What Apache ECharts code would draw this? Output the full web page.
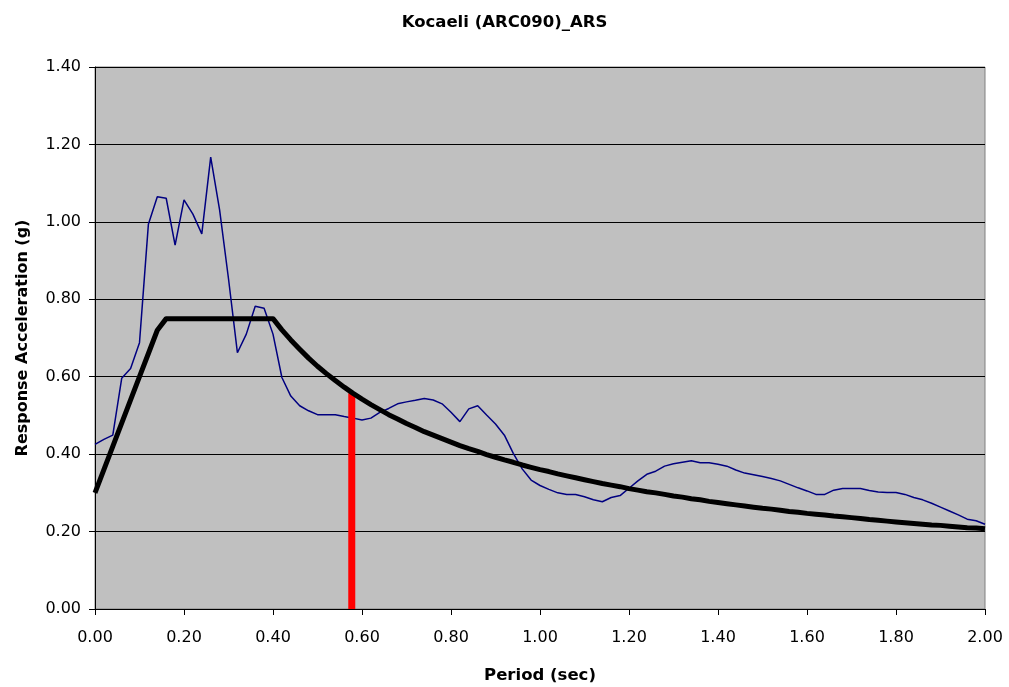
<!DOCTYPE html>
<html>
<head>
<meta charset="utf-8">
<title>Kocaeli (ARC090)_ARS</title>
<script src="https://cdn.jsdelivr.net/npm/echarts/dist/echarts.min.js"></script>
<style>
  html, body { margin: 0; padding: 0; background: #ffffff; }
  #chart { width: 1009px; height: 687px; }
</style>
</head>
<body>
<div id="chart"></div>
<script>
// Period samples (sec)
const periods = [
  0.00, 0.02, 0.04, 0.06, 0.08, 0.10, 0.12, 0.14, 0.16, 0.18,
  0.20, 0.22, 0.24, 0.26, 0.28, 0.30, 0.32, 0.34, 0.36, 0.38,
  0.40, 0.42, 0.44, 0.46, 0.48, 0.50, 0.52, 0.54, 0.56, 0.58,
  0.60, 0.62, 0.64, 0.66, 0.68, 0.70, 0.72, 0.74, 0.76, 0.78,
  0.80, 0.82, 0.84, 0.86, 0.88, 0.90, 0.92, 0.94, 0.96, 0.98,
  1.00, 1.02, 1.04, 1.06, 1.08, 1.10, 1.12, 1.14, 1.16, 1.18,
  1.20, 1.22, 1.24, 1.26, 1.28, 1.30, 1.32, 1.34, 1.36, 1.38,
  1.40, 1.42, 1.44, 1.46, 1.48, 1.50, 1.52, 1.54, 1.56, 1.58,
  1.60, 1.62, 1.64, 1.66, 1.68, 1.70, 1.72, 1.74, 1.76, 1.78,
  1.80, 1.82, 1.84, 1.86, 1.88, 1.90, 1.92, 1.94, 1.96, 1.98,
  2.00
];

// Acceleration response spectrum of the Kocaeli ARC090 record (g)
const arsValues = [
  0.425, 0.438, 0.449, 0.596, 0.621, 0.688, 0.994, 1.065, 1.061, 0.940,
  1.057, 1.020, 0.969, 1.167, 1.031, 0.853, 0.662, 0.710, 0.782, 0.777,
  0.710, 0.598, 0.550, 0.525, 0.512, 0.502, 0.502, 0.502, 0.497, 0.493,
  0.488, 0.493, 0.508, 0.518, 0.530, 0.535, 0.539, 0.544, 0.540, 0.530,
  0.508, 0.484, 0.517, 0.525, 0.501, 0.478, 0.449, 0.402, 0.362, 0.333,
  0.319, 0.309, 0.300, 0.296, 0.296, 0.290, 0.282, 0.277, 0.288, 0.293,
  0.312, 0.331, 0.348, 0.356, 0.369, 0.375, 0.379, 0.383, 0.378, 0.378,
  0.374, 0.369, 0.359, 0.351, 0.347, 0.342, 0.337, 0.331, 0.322, 0.313,
  0.305, 0.296, 0.296, 0.307, 0.311, 0.311, 0.311, 0.306, 0.302, 0.301,
  0.301, 0.296, 0.288, 0.282, 0.273, 0.263, 0.253, 0.243, 0.232, 0.228,
  0.219
];

// Design spectrum (g)
const designValues = [
  0.300, 0.360, 0.420, 0.480, 0.540, 0.600, 0.660, 0.720, 0.750, 0.750,
  0.750, 0.750, 0.750, 0.750, 0.750, 0.750, 0.750, 0.750, 0.750, 0.750,
  0.750, 0.721, 0.695, 0.671, 0.648, 0.627, 0.608, 0.590, 0.573, 0.557,
  0.542, 0.528, 0.515, 0.502, 0.491, 0.479, 0.469, 0.458, 0.449, 0.440,
  0.431, 0.422, 0.414, 0.407, 0.399, 0.392, 0.385, 0.379, 0.372, 0.366,
  0.360, 0.355, 0.349, 0.344, 0.339, 0.334, 0.329, 0.324, 0.320, 0.316,
  0.311, 0.307, 0.303, 0.300, 0.296, 0.292, 0.289, 0.285, 0.282, 0.278,
  0.275, 0.272, 0.269, 0.266, 0.263, 0.260, 0.258, 0.255, 0.252, 0.250,
  0.247, 0.245, 0.243, 0.240, 0.238, 0.236, 0.234, 0.231, 0.229, 0.227,
  0.225, 0.223, 0.221, 0.219, 0.217, 0.216, 0.214, 0.212, 0.210, 0.209,
  0.207
];

// Vertical marker at the structure period
const markerPeriods = [0.577, 0.577];
const markerValues = [0.000, 0.557];

const FONT = "'DejaVu Sans', 'Liberation Sans', Arial, sans-serif";

const pairs = (xs, ys) => xs.map((x, i) => [x, ys[i]]);

const chart = echarts.init(document.getElementById('chart'), null, { renderer: 'canvas' });

chart.setOption({
  animation: false,
  backgroundColor: '#ffffff',
  title: {
    text: 'Kocaeli (ARC090)_ARS',
    left: 'center',
    top: 9,
    textStyle: { fontFamily: FONT, fontSize: 16.5, fontWeight: 'bold', color: '#000000' }
  },
  grid: {
    left: 95,
    right: 24,
    top: 67,
    bottom: 78,
    show: true,
    backgroundColor: '#c0c0c0',
    borderColor: '#808080',
    borderWidth: 1,
    containLabel: false,
    outerBoundsMode: 'none'
  },
  xAxis: {
    type: 'value',
    min: 0,
    max: 2,
    interval: 0.2,
    name: 'Period (sec)',
    nameLocation: 'middle',
    nameGap: 58,
    nameTextStyle: { fontFamily: FONT, fontSize: 16.5, fontWeight: 'bold', color: '#000000' },
    axisLine: { show: true, onZero: false, lineStyle: { color: '#000000', width: 1 } },
    axisTick: { show: true, inside: false, length: 6, lineStyle: { color: '#000000', width: 1 } },
    axisLabel: {
      margin: 21,
      fontFamily: FONT,
      fontSize: 16,
      color: '#000000',
      formatter: v => v.toFixed(2)
    },
    splitLine: { show: false }
  },
  yAxis: {
    type: 'value',
    min: 0,
    max: 1.4,
    interval: 0.2,
    name: 'Response Acceleration (g)',
    nameLocation: 'middle',
    nameGap: 64,
    nameTextStyle: { fontFamily: FONT, fontSize: 16, fontWeight: 'bold', color: '#000000' },
    axisLine: { show: true, onZero: false, lineStyle: { color: '#000000', width: 1 } },
    axisTick: { show: true, inside: false, length: 6, lineStyle: { color: '#000000', width: 1 } },
    axisLabel: {
      margin: 14,
      fontFamily: FONT,
      fontSize: 16,
      color: '#000000',
      formatter: v => v.toFixed(2)
    },
    splitLine: { show: true, lineStyle: { color: '#000000', width: 1 } }
  },
  series: [
    {
      name: 'ARS',
      type: 'line',
      data: pairs(periods, arsValues),
      showSymbol: false,
      symbol: 'none',
      lineStyle: { color: '#000080', width: 1.5 },
      itemStyle: { color: '#000080' },
      z: 2
    },
    {
      name: 'Period marker',
      type: 'line',
      data: pairs(markerPeriods, markerValues),
      showSymbol: false,
      symbol: 'none',
      lineStyle: { color: '#ff0000', width: 7, cap: 'butt' },
      itemStyle: { color: '#ff0000' },
      z: 3
    },
    {
      name: 'Design spectrum',
      type: 'line',
      data: pairs(periods, designValues),
      showSymbol: false,
      symbol: 'none',
      lineStyle: { color: '#000000', width: 5, join: 'round' },
      itemStyle: { color: '#000000' },
      z: 4
    }
  ]
});
</script>
</body>
</html>
